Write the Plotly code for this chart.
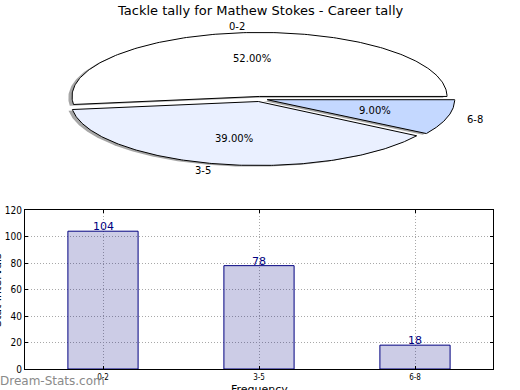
import numpy as np
import plotly.graph_objects as go

# ---------------- data ----------------
categories = ["0-2", "3-5", "6-8"]
tally = [104, 78, 18]
pie_colors = ["#ffffff", "#eaf0ff", "#c4d8ff"]
title_text = "Tackle tally for Mathew Stokes - Career tally"
y_title = "Stat Intervals"
x_title = "Frequency"
watermark = "Dream-Stats.com"

# ---------------- geometry / style ----------------
W, H = 520, 390
PCX, PCY, PRX, PRY = 260, 99, 187.5, 64   # pie centre and radii in pixels
PIE_H = 195                               # height (px) of pie area at the top
EXPLODE = 0.04
SHADOW = (-0.02, -0.02)
FONT = "DejaVu Sans"
NARROW = "Liberation Sans Narrow, DejaVu Sans Condensed, Arial Narrow, sans-serif"
NAVY = "#000080"

fig = go.Figure()

total = float(sum(tally))
fracs = [v / total for v in tally]
starts = np.concatenate([[0.0], np.cumsum(fracs)[:-1]]) * 360.0
ends = np.cumsum(fracs) * 360.0


def wedge(cx, cy, a1, a2):
    t = np.radians(np.linspace(a1, a2, 200))
    xs = np.concatenate([[cx], cx + np.cos(t), [cx]])
    ys = np.concatenate([[cy], cy + np.sin(t), [cy]])
    return xs, ys


geo = []
for i, cat in enumerate(categories):
    mid = np.radians((starts[i] + ends[i]) / 2)
    ex, ey = EXPLODE * np.cos(mid), EXPLODE * np.sin(mid)
    geo.append((ex, ey, mid))

# shadows first (behind all wedges)
for i, cat in enumerate(categories):
    ex, ey, mid = geo[i]
    xs, ys = wedge(ex + SHADOW[0], ey + SHADOW[1], starts[i], ends[i])
    fig.add_trace(go.Scatter(x=xs, y=ys, mode="lines", fill="toself",
                             fillcolor="rgba(77,77,77,0.5)", line=dict(width=0),
                             xaxis="x2", yaxis="y2", hoverinfo="skip", showlegend=False))

for i, cat in enumerate(categories):
    ex, ey, mid = geo[i]
    xs, ys = wedge(ex, ey, starts[i], ends[i])
    fig.add_trace(go.Scatter(x=xs, y=ys, mode="lines", fill="toself",
                             fillcolor=pie_colors[i], line=dict(color="black", width=1),
                             xaxis="x2", yaxis="y2", hoverinfo="skip", showlegend=False))

annotations = []
for i, cat in enumerate(categories):
    ex, ey, mid = geo[i]
    lx, ly = ex + 1.1 * np.cos(mid), ey + 1.1 * np.sin(mid)
    annotations.append(dict(x=lx, y=ly, xref="x2", yref="y2", text=cat, showarrow=False,
                            xanchor="left" if lx > 0 else "right", yanchor="middle",
                            font=dict(family=FONT, size=10, color="black")))
    px, py = ex + 0.6 * np.cos(mid), ey + 0.6 * np.sin(mid)
    annotations.append(dict(x=px, y=py, xref="x2", yref="y2",
                            text="%.2f%%" % (fracs[i] * 100), showarrow=False,
                            xanchor="center", yanchor="middle",
                            font=dict(family=FONT, size=10, color="black")))

# ---------------- bar chart ----------------
fig.add_trace(go.Bar(x=categories, y=tally, width=0.45,
                     marker=dict(color="rgba(0,0,128,0.2)", line=dict(color=NAVY, width=1)),
                     xaxis="x", yaxis="y", hoverinfo="skip", showlegend=False))

for i, cat in enumerate(categories):
    annotations.append(dict(x=cat, y=tally[i], xref="x", yref="y", text=str(tally[i]),
                            showarrow=False, xanchor="center", yanchor="bottom", yshift=-4,
                            font=dict(family=FONT, size=11, color=NAVY)))

annotations.append(dict(x=0.5, y=1, xref="paper", yref="paper", text=title_text,
                        showarrow=False, xanchor="center", yanchor="middle", yshift=-10,
                        font=dict(family=FONT, size=13, color="black")))
annotations.append(dict(x=0, y=(H - 290) / H, xref="paper", yref="paper", text=y_title,
                        showarrow=False, textangle=-90, xanchor="center", yanchor="middle",
                        xshift=-3, font=dict(family=FONT, size=11, color="black")))
annotations.append(dict(x=259 / W, y=0, xref="paper", yref="paper", text=x_title,
                        showarrow=False, xanchor="center", yanchor="middle", yshift=1,
                        font=dict(family=FONT, size=11, color="black")))
annotations.append(dict(x=0, y=(H - 381) / H, xref="paper", yref="paper", text=watermark,
                        showarrow=False, xanchor="left", yanchor="middle", xshift=-2,
                        font=dict(family=FONT, size=12, color="#8a8a8a")))

axis_common = dict(showline=True, linecolor="black", linewidth=1, mirror="ticks",
                   ticks="inside", ticklen=3, tickcolor="black",
                   showgrid=True, gridcolor="#a8a8a8", griddash="1px,2px", gridwidth=1,
                   zeroline=False)

fig.update_layout(
    width=W, height=H, margin=dict(l=0, r=0, t=0, b=0, pad=0, autoexpand=False),
    paper_bgcolor="white", plot_bgcolor="white", showlegend=False,
    xaxis=dict(domain=[25 / W, 493 / W], range=[-0.5, 2.5], type="category",
               tickfont=dict(family=NARROW, size=8, color="black"), anchor="y",
               automargin=False, **axis_common),
    yaxis=dict(domain=[(H - 369) / H, (H - 210) / H], range=[0, 120], dtick=20,
               tickfont=dict(family=NARROW, size=10, color="black"), anchor="x",
               automargin=False, **axis_common),
    xaxis2=dict(domain=[0, 1], range=[-PCX / PRX, (W - PCX) / PRX], visible=False,
                anchor="y2", fixedrange=True),
    yaxis2=dict(domain=[1 - PIE_H / H, 1], range=[-(PIE_H - PCY) / PRY, PCY / PRY],
                visible=False, anchor="x2", fixedrange=True),
    annotations=annotations,
)

fig.write_html("out.html",
               config={"displayModeBar": False, "staticPlot": True},
               post_script="document.body.style.margin='0';"
                           "document.body.style.overflow='hidden';")
